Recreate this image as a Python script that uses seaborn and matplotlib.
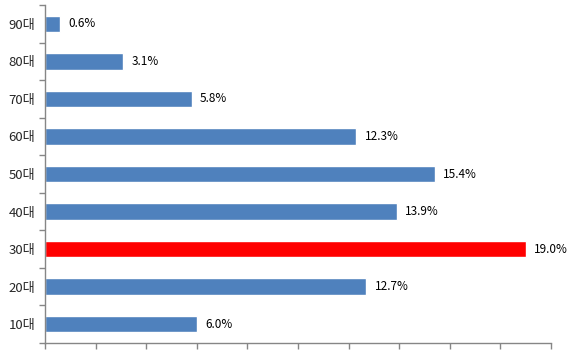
import pandas as pd
import numpy as np
import matplotlib
matplotlib.use('Agg')
import matplotlib.pyplot as plt
import seaborn as sns
from matplotlib.ticker import FixedLocator, NullFormatter

# age groups, bottom to top as in the chart
ages = ['10대', '20대', '30대', '40대', '50대', '60대', '70대', '80대', '90대']
shares = [6.0, 12.7, 19.0, 13.9, 15.4, 12.3, 5.8, 3.1, 0.6]
highlight = '30대'

sns.set_style('white')
plt.rcParams['font.family'] = ['Noto Sans CJK KR', 'DejaVu Sans']

df = pd.DataFrame({'age': ages, 'share': shares})
order = ages[::-1]  # top row first
colors = {a: ('#FF0000' if a == highlight else '#4F81BD') for a in ages}

fig = plt.figure(figsize=(5.8, 3.55), dpi=100)
ax = fig.add_axes([0.0776, 0.0338, 0.8724, 0.952])
sns.barplot(data=df, x='share', y='age', order=order, hue='age',
            palette=colors, legend=False, width=0.44, ax=ax, saturation=1)

ax.set_xlim(0, 20)
ax.set_ylim(len(ages) - 0.5, -0.5)
ax.set_xticks(np.arange(0, 21, 2))
ax.xaxis.set_major_formatter(NullFormatter())
ax.set_xlabel('')
ax.set_ylabel('')

# ticks between the categories, labels in the middle
ax.yaxis.set_minor_locator(FixedLocator(np.arange(-0.5, len(ages), 1)))
ax.tick_params(axis='y', which='major', length=0, pad=7, labelsize=9.5)
ax.tick_params(axis='y', which='minor', length=4, width=1, color='#868686', left=True)
ax.tick_params(axis='x', which='major', length=4, width=1, color='#868686', bottom=True)

for s in ['top', 'right']:
    ax.spines[s].set_visible(False)
for s in ['left', 'bottom']:
    ax.spines[s].set_color('#868686')
    ax.spines[s].set_linewidth(1)

for i, a in enumerate(order):
    v = df.loc[df['age'] == a, 'share'].iloc[0]
    ax.annotate('%.1f%%' % v, xy=(v, i), xytext=(6, 0), textcoords='offset points',
                va='center', ha='left', fontsize=8.5, color='black')

fig.savefig('out.png', dpi=100)
